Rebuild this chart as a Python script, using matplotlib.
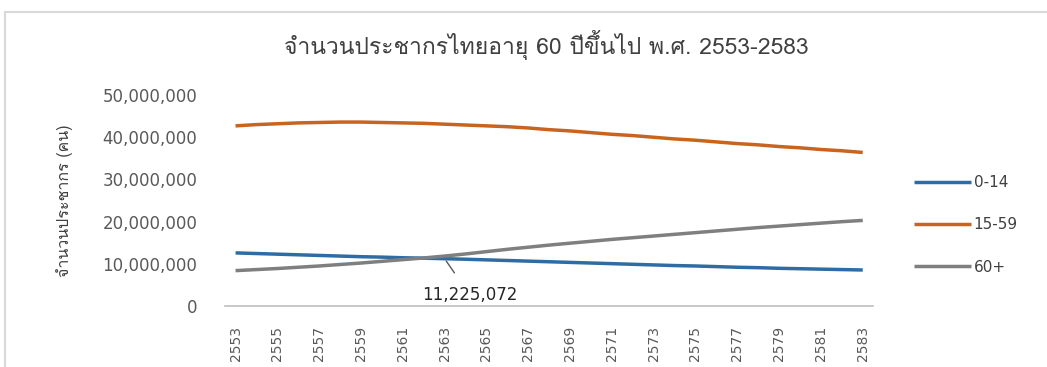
import matplotlib as mpl
mpl.use('agg')
import matplotlib.pyplot as plt
from matplotlib import font_manager
from matplotlib.ft2font import FT2Font
from matplotlib.ticker import FuncFormatter
from matplotlib.patches import Rectangle

## population by age group, Thai years (B.E.)
years = list(range(2553, 2584))

age_0_14 = [12.60, 12.45, 12.30, 12.15, 12.00, 11.85, 11.70, 11.60, 11.45, 11.35,
            11.225072, 11.10, 10.95, 10.80, 10.65, 10.50, 10.35, 10.20, 10.05, 9.90,
            9.75, 9.60, 9.50, 9.35, 9.20, 9.10, 8.95, 8.85, 8.75, 8.65, 8.55]
age_15_59 = [42.7, 43.0, 43.2, 43.4, 43.5, 43.6, 43.6, 43.5, 43.4, 43.3,
             43.1, 42.9, 42.7, 42.5, 42.2, 41.8, 41.5, 41.1, 40.7, 40.4,
             40.0, 39.6, 39.3, 38.9, 38.5, 38.2, 37.8, 37.5, 37.1, 36.8, 36.4]
age_60_plus = [8.40, 8.65, 8.90, 9.20, 9.50, 9.85, 10.20, 10.60, 11.00, 11.40,
               11.85, 12.35, 12.90, 13.45, 13.95, 14.45, 14.90, 15.35, 15.80, 16.20,
               16.60, 17.00, 17.40, 17.80, 18.20, 18.60, 18.95, 19.30, 19.65, 20.00, 20.30]

series_names = ['0-14', '15-59', '60+']
series_colors = ['#2f6ca3', '#c9641f', '#7f7f7f']

label_year = 2563
label_value = 11225072

title = 'จำนวนประชากรไทยอายุ 60 ปีขึ้นไป พ.ศ. 2553-2583'
ylabel = 'จำนวนประชากร (คน)'


def thai_family():
    # first installed font that has Thai glyphs
    for f in font_manager.fontManager.ttflist:
        try:
            if 0x0E08 in FT2Font(f.fname).get_charmap():
                return f.name
        except Exception:
            pass
    return 'DejaVu Sans'


thai = [thai_family(), 'DejaVu Sans']

fig = plt.figure(figsize=(10.47, 3.67), dpi=100)
ax = fig.add_axes([0.215, 0.166, 0.619, 0.575])

data = [age_0_14, age_15_59, age_60_plus]
for name, vals, col in zip(series_names, data, series_colors):
    ax.plot(years, [v * 1e6 for v in vals], color=col, linewidth=2.5,
            solid_capstyle='butt', label=name)

ax.set_xlim(years[0] - 0.5, years[-1] + 0.5)
ax.set_ylim(0, 50e6)
ax.set_yticks(range(0, 50000001, 10000000))
ax.yaxis.set_major_formatter(FuncFormatter(lambda v, p: f'{int(v):,}'))
ax.set_xticks(years[::2])
ax.set_xticklabels([str(y) for y in years[::2]], rotation=90)

for s in ['top', 'right', 'left']:
    ax.spines[s].set_visible(False)
ax.spines['bottom'].set_color('#bfbfbf')
ax.spines['bottom'].set_linewidth(1.2)
ax.tick_params(axis='both', length=0, colors='#595959')
ax.tick_params(axis='y', pad=20, labelsize=12)
ax.tick_params(axis='x', pad=14, labelsize=10)

ax.set_ylabel(ylabel, family=thai, fontsize=11.5, color='#404040', labelpad=21)
fig.text(0.522, 0.877, title, family=thai, fontsize=16.5, color='#404040',
         ha='center', va='center')

## data label for the crossing point
ax.annotate(f'{label_value:,}', xy=(label_year, label_value),
            xytext=(label_year + 1.2, label_value - 8.6e6),
            ha='center', va='center', fontsize=12, color='#262626',
            arrowprops=dict(arrowstyle='-', color='#595959', lw=1,
                            shrinkA=9, shrinkB=2))

leg = fig.legend(loc='center left', bbox_to_anchor=(0.860, 0.387), frameon=False,
                 handlelength=3.7, handletextpad=0.2, labelspacing=1.78,
                 fontsize=11)
for t in leg.get_texts():
    t.set_color('#404040')

## light chart frame
fig.patches.append(Rectangle((5 / 1047, -0.1), 1.2, (367 - 12) / 367 + 0.1,
                             transform=fig.transFigure, fill=False,
                             edgecolor='#d9d9d9', linewidth=1.5))

fig.savefig('out.png', dpi=100)
